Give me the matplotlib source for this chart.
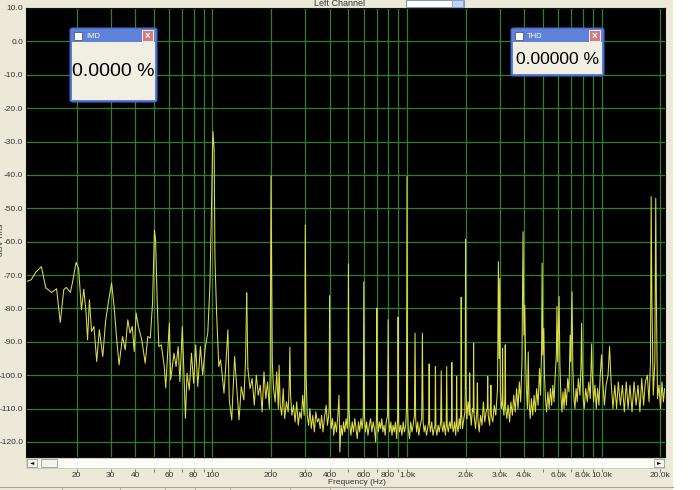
import matplotlib
matplotlib.use('Agg')
import matplotlib.pyplot as plt
from matplotlib.patches import Rectangle, FancyBboxPatch

# spectrum readout, (Hz, dBV) pairs
low_band = [
    (11.1, -71.9), (11.7, -71.4), (12.4, -69.0), (13.2, -67.5), (13.9, -73.8), (14.9, -75.2),
    (15.8, -74.1), (16.5, -84.2), (17.2, -74.4), (17.7, -73.7), (18.6, -75.2), (19.1, -72.0),
    (19.9, -66.2), (20.5, -68.0), (21.2, -80.4), (21.8, -74.2), (22.4, -81.4), (22.8, -89.4),
    (23.3, -77.4), (23.9, -86.9), (24.6, -85.4), (25.4, -95.9), (26.2, -86.4), (27.3, -94.4),
    (28.2, -83.9), (29.3, -77.4), (30.3, -72.4), (31.2, -79.4), (32.2, -89.4), (33.1, -96.9),
    (34.5, -88.4), (35.6, -92.4), (36.7, -83.4), (37.7, -87.4), (38.7, -85.4), (39.6, -92.9),
    (40.5, -81.4), (41.6, -85.4), (43.3, -89.4), (45.1, -96.4), (46.5, -88.4), (47.9, -88.9),
    (49.2, -78.4), (50.3, -56.5), (51.0, -59.5), (52.0, -78.3), (53.0, -91.4), (54.6, -90.9),
    (56.5, -97.4), (57.5, -103.8), (60.0, -84.4), (61.0, -101.4), (63.4, -93.4), (65.0, -97.4),
    (66.6, -91.4), (68.0, -101.9), (70.0, -85.4), (71.6, -102.4), (72.6, -112.9), (74.0, -99.4),
    (76.0, -104.4), (78.0, -93.4), (80.0, -102.4), (82.0, -90.9), (84.0, -103.4), (86.7, -91.4),
    (89.0, -99.9), (92.0, -91.4), (94.6, -87.3), (97.0, -73.4), (99.0, -47.5), (100.5, -27.0),
    (102.0, -32.5), (103.0, -65.4), (105.0, -81.4), (107.8, -97.4), (110.0, -95.4), (112.0, -99.4),
    (114.6, -105.4), (117.0, -97.4), (120.0, -86.4), (122.0, -107.4), (125.6, -113.4), (130.0, -94.4),
    (133.5, -104.4), (137.0, -113.4), (140.6, -103.4), (145.0, -107.4), (148.0, -95.4), (150.0, -75.4),
]

mid_band = [
    (152, -98), (156, -104), (160, -101), (164, -109), (168, -100), (172, -106), (176, -103),
    (180, -111), (184, -99), (188, -107), (192, -102), (196, -110), (198, -100), (200, -40.3),
    (203, -96), (206, -104), (210, -108), (214, -99), (218, -110), (220, -97), (223, -109),
    (227, -112), (231, -104), (235, -113), (240, -108), (245, -111), (248, -103), (250, -91.6),
    (252, -106), (256, -112), (261, -109), (266, -114), (271, -108), (276, -115), (281, -111),
    (286, -113), (291, -106), (296, -112), (298, -104), (300, -55), (303, -100), (307, -112),
    (312, -115), (317, -110), (322, -116), (328, -112), (334, -117), (340, -111), (346, -114),
    (352, -113), (358, -116), (364, -112), (370, -117), (376, -113), (384, -109), (390, -115),
    (396, -112), (398, -110), (400, -76.2), (404, -111), (408, -116), (414, -113), (420, -118),
    (427, -114), (434, -117), (441, -112), (447, -106), (452, -123), (458, -115), (465, -118),
    (472, -114), (479, -117), (486, -113), (493, -116), (497, -111), (500, -66.6), (504, -110),
    (508, -115), (515, -118), (523, -114), (531, -117), (539, -113), (547, -116), (555, -119),
    (563, -114), (571, -117), (580, -113), (588, -116), (596, -112), (600, -72), (605, -113),
    (612, -117), (620, -114), (630, -118), (640, -115), (650, -113), (660, -117), (670, -114),
    (680, -116), (690, -120), (697, -112), (700, -79.9), (704, -113), (712, -117), (722, -114),
    (732, -116), (742, -113), (752, -117), (762, -115), (772, -118), (782, -114), (795, -112),
    (800, -83.4), (806, -113), (815, -117), (826, -114), (837, -118), (848, -115), (860, -117),
    (872, -114), (885, -119), (895, -113), (900, -82.6), (906, -114), (915, -117), (928, -115),
    (942, -118), (956, -114), (970, -117), (985, -115), (994, -110), (1000, -40.5), (1007, -109),
    (1015, -116), (1030, -119), (1045, -114), (1060, -117), (1075, -115), (1092, -112), (1100, -87.4),
    (1108, -113), (1120, -117), (1135, -114), (1150, -118), (1170, -115), (1190, -113), (1200, -87.4),
    (1210, -114), (1225, -117), (1240, -115), (1260, -118), (1292, -114), (1300, -96.6), (1308, -115),
    (1320, -117), (1340, -114), (1360, -118), (1380, -116), (1393, -115), (1400, -97.4), (1408, -116),
    (1425, -118), (1445, -115), (1465, -117), (1490, -114), (1500, -98.7), (1510, -115), (1530, -117),
    (1550, -114), (1575, -118), (1590, -115), (1600, -97.4), (1610, -115), (1630, -117), (1655, -114),
    (1680, -116), (1692, -113), (1700, -96.2), (1710, -115), (1730, -117), (1755, -114), (1780, -118),
    (1792, -114), (1800, -100.4), (1810, -115), (1830, -117), (1855, -113), (1880, -116), (1892, -110),
    (1900, -76.6), (1910, -112), (1930, -116), (1960, -113), (1985, -111), (1993, -105), (2000, -59.3),
    (2010, -104),
]

high_band = [
    (2030, -113), (2060, -108), (2090, -112), (2100, -99.3), (2112, -111), (2140, -115), (2170, -110),
    (2190, -111), (2200, -90.4), (2212, -112), (2250, -116), (2290, -110), (2300, -102.3), (2315, -113),
    (2350, -117), (2390, -112), (2430, -115), (2470, -108), (2510, -114), (2550, -111), (2585, -110),
    (2600, -100.4), (2615, -112), (2660, -115), (2690, -108), (2700, -103), (2715, -112), (2760, -114),
    (2810, -109), (2860, -112), (2920, -104), (2950, -66), (2975, -95), (3000, -71), (3020, -105),
    (3060, -110), (3090, -108), (3100, -91.9), (3115, -109), (3150, -112), (3185, -107), (3200, -90.9),
    (3215, -110), (3260, -113), (3310, -109), (3370, -114), (3420, -108), (3480, -112), (3540, -106),
    (3600, -111), (3660, -104), (3720, -110), (3780, -102), (3840, -108), (3900, -96), (3950, -57),
    (3990, -88), (4030, -79), (4070, -95), (4110, -104), (4160, -110), (4200, -93), (4240, -108),
    (4300, -113), (4360, -107), (4430, -112), (4500, -106), (4570, -111), (4640, -104), (4720, -109),
    (4800, -98), (4860, -106), (4920, -92), (4950, -66.4), (4990, -94), (5050, -86), (5090, -100),
    (5150, -107), (5220, -111), (5300, -105), (5380, -110), (5460, -104), (5540, -109), (5620, -103),
    (5700, -108), (5780, -100), (5860, -94), (5900, -79.4), (5950, -96), (6050, -76.4), (6110, -97),
    (6180, -106), (6260, -111), (6340, -105), (6420, -110), (6500, -104), (6600, -109), (6700, -101),
    (6800, -105), (6900, -88), (6950, -96), (7050, -75), (7120, -98), (7200, -106), (7300, -110),
    (7400, -104), (7500, -108), (7600, -101), (7750, -106), (7850, -96), (7900, -84.4), (7960, -98),
    (8050, -107), (8150, -110), (8300, -104), (8450, -108), (8600, -102), (8750, -107), (8830, -98),
    (8900, -90.6), (8970, -100), (9100, -108), (9250, -103), (9400, -110), (9550, -104), (9700, -109),
    (9850, -100), (10000, -93.9), (10150, -102), (10350, -109), (10550, -103), (10800, -100),
    (11000, -91.4), (11200, -102), (11450, -110), (11700, -103), (11950, -110), (12200, -102),
    (12500, -109), (12800, -103), (13100, -111), (13400, -102), (13700, -110), (14000, -103),
    (14350, -111), (14700, -102), (15050, -109), (15400, -103), (15750, -111), (16100, -101),
    (16450, -109), (16800, -102), (17200, -100), (17550, -108), (17850, -96), (18000, -46.5),
    (18150, -77), (18450, -106), (18800, -96), (19000, -47), (19150, -78), (19400, -107),
    (19750, -103), (20100, -110), (20450, -102), (20800, -108), (21100, -104),
]

db_ticks = list(range(-120, 11, 10))
freq_ticks = [20, 30, 40, 60, 80, 100, 200, 300, 400, 600, 800, 1000, 2000, 3000, 4000, 6000, 8000, 10000, 20000]
freq_labels = ['20', '30', '40', '60', '80', '100', '200', '300', '400', '600', '800', '1.0k',
               '2.0k', '3.0k', '4.0k', '6.0k', '8.0k', '10.0k', '20.0k']
freq_minor = [50, 70, 90, 500, 700, 900, 5000, 7000, 9000]

W, H = 700, 490
BG = '#ECE9D8'
GRID = '#2f7f2f'
TRACE = '#dede48'
LABEL = '#333333'


def fx(px):
    return px / W


def fy(py):
    return 1 - py / H


plt.rcParams['font.family'] = ['Liberation Sans', 'DejaVu Sans']
plt.rcParams['axes.unicode_minus'] = False

fig = plt.figure(figsize=(7, 4.9), dpi=100, facecolor=BG)

ax = fig.add_axes([fx(26), fy(457), fx(665) - fx(26), fy(8) - fy(457)])
ax.set_facecolor('black')
ax.set_xscale('log')
ax.set_xlim(11.0, 21200)
ax.set_ylim(-124.5, 10)
ax.set_xticks(freq_ticks + freq_minor)
ax.set_xticks([], minor=True)
ax.set_yticks(db_ticks)
ax.set_yticklabels(['%.1f' % v for v in db_ticks])
ax.tick_params(axis='x', length=0, labelbottom=False)
ax.tick_params(axis='y', length=0, pad=2, labelsize=6, labelcolor=LABEL)
ax.grid(True, color=GRID, lw=0.9)
for s in ax.spines.values():
    s.set_color('#111111')

for band in (low_band, mid_band, high_band):
    f, d = zip(*band)
    ax.plot(f, d, color=TRACE, lw=0.75)
# join the bands
ax.plot([low_band[-1][0], mid_band[0][0]], [low_band[-1][1], mid_band[0][1]], color=TRACE, lw=0.75)
ax.plot([mid_band[-1][0], high_band[0][0]], [mid_band[-1][1], high_band[0][1]], color=TRACE, lw=0.75)

# window chrome: selector, scroll bar, right strip, status bar
fig.add_artist(Rectangle((fx(406), fy(7)), fx(58), fy(0) - fy(7), transform=fig.transFigure,
                         facecolor='white', edgecolor='#7f9db9', lw=0.8))
fig.add_artist(Rectangle((fx(452), fy(7)), fx(11), fy(0) - fy(7), transform=fig.transFigure,
                         facecolor='#c3d3fd', edgecolor='#7f9db9', lw=0.6))
fig.add_artist(Rectangle((fx(26), fy(468)), fx(638), fy(458) - fy(468), transform=fig.transFigure,
                         facecolor='#fbfbf8', edgecolor='#c8c5b5', lw=0.6))
for x0 in (27, 654):
    fig.add_artist(Rectangle((fx(x0), fy(467)), fx(10), fy(459) - fy(467), transform=fig.transFigure,
                             facecolor='#f4f3ee', edgecolor='#9a9a90', lw=0.6))
fig.add_artist(Rectangle((fx(41), fy(467)), fx(16), fy(459) - fy(467), transform=fig.transFigure,
                         facecolor='#f4f3ee', edgecolor='#9a9a90', lw=0.6))
fig.text(fx(32), fy(463), '\u25c4', ha='center', va='center', fontsize=4, color='black',
         family='DejaVu Sans')
fig.text(fx(659), fy(463), '\u25ba', ha='center', va='center', fontsize=4, color='black',
         family='DejaVu Sans')
fig.add_artist(Rectangle((fx(673), 0), fx(27), 1, transform=fig.transFigure,
                         facecolor='white', edgecolor='none'))
fig.add_artist(plt.Line2D([0, fx(673)], [fy(487), fy(487)], transform=fig.transFigure,
                          color='#a8a698', lw=0.8))
for xs in (62, 120, 165, 195, 230, 290, 330):
    fig.add_artist(plt.Line2D([fx(xs), fx(xs)], [0, fy(488)], transform=fig.transFigure,
                              color='#a8a698', lw=0.6))

# frequency scale under the scroll bar
sax = fig.add_axes([fx(26), fy(469), fx(665) - fx(26), 0.001])
sax.set_xscale('log')
sax.set_xlim(11.0, 21200)
sax.patch.set_visible(False)
for s in sax.spines.values():
    s.set_visible(False)
sax.set_yticks([])
sax.set_xticks(freq_ticks)
sax.set_xticklabels(freq_labels)
sax.set_xticks(freq_minor, minor=True)
sax.tick_params(axis='x', which='both', direction='out', length=1.8, width=0.6, color='#666666',
                pad=0.6, labelsize=6, labelcolor=LABEL)

fig.text(fx(357), fy(482.5), 'Frequency (Hz)', ha='center', va='center', fontsize=6, color=LABEL)
fig.text(fx(340), fy(3), 'Left Channel', ha='center', va='center', fontsize=6.5, color=LABEL)
fig.text(fx(2), fy(240), 'dBV rms', ha='center', va='center', rotation=90, fontsize=6, color=LABEL)


def meter(x0, y0, x1, y1, title, value, size):
    # small floating readout window
    fig.add_artist(FancyBboxPatch((fx(x0), fy(y1)), fx(x1 - x0), fy(y0) - fy(y1),
                                  boxstyle='round,pad=0,rounding_size=0.004', transform=fig.transFigure,
                                  facecolor='#5f82d9', edgecolor='#3d5fbf', lw=0.8))
    fig.add_artist(Rectangle((fx(x0 + 2), fy(y1 - 2)), fx(x1 - x0 - 4), fy(y0 + 14) - fy(y1 - 2),
                             transform=fig.transFigure, facecolor='#f1efe2', edgecolor='none'))
    fig.add_artist(Rectangle((fx(x0 + 4), fy(y0 + 12)), fx(8), fy(y0 + 4) - fy(y0 + 12),
                             transform=fig.transFigure, facecolor='white', edgecolor='#445', lw=0.5))
    fig.text(fx(x0 + 16), fy(y0 + 8), title, ha='left', va='center', fontsize=5.5, color='white')
    fig.add_artist(Rectangle((fx(x1 - 15), fy(y0 + 13)), fx(11), fy(y0 + 2) - fy(y0 + 13),
                             transform=fig.transFigure, facecolor='#d77a7a', edgecolor='white', lw=0.6))
    fig.text(fx(x1 - 9.5), fy(y0 + 7.5), '\u00d7', ha='center', va='center', fontsize=7,
             color='white', weight='bold')
    fig.text(fx((x0 + x1) / 2), fy((y0 + 14 + y1) / 2), value, ha='center', va='center',
             fontsize=size, color='black')


meter(70, 28, 157, 102, 'IMD', '0.0000 %', 14)
meter(511, 28, 604, 76, 'THD', '0.00000 %', 12.5)

fig.savefig('out.png', dpi=100, facecolor=BG)
